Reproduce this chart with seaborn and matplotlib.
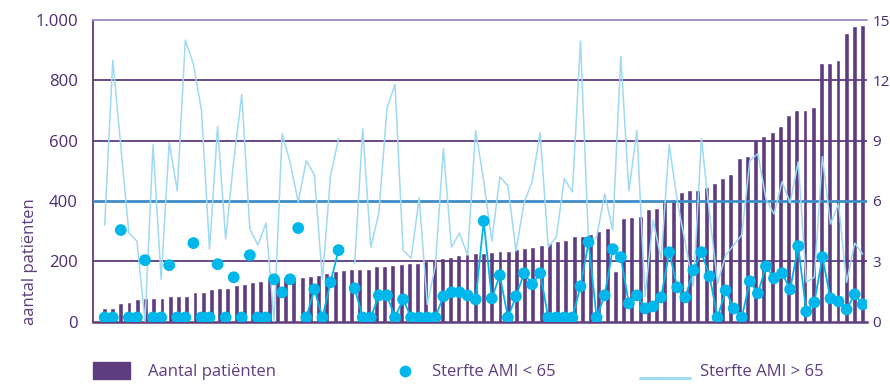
import numpy as np
import pandas as pd
import matplotlib
matplotlib.use("Agg")
import matplotlib.pyplot as plt
import seaborn as sns
from matplotlib.patches import Rectangle
from matplotlib.lines import Line2D

# ---------------- data ----------------
patients = [44, 44, 61, 64, 75, 79, 79, 79, 86, 86, 86, 98, 98, 108, 111, 111,
            121, 125, 131, 134, 140, 144, 146, 148, 148, 151, 154, 160, 168, 171,
            174, 174, 174, 184, 184, 187, 191, 193, 195, 201, 204, 212, 214, 220,
            223, 226, 227, 230, 234, 234, 239, 243, 247, 254, 260, 268, 270, 282,
            283, 289, 300, 310, 168, 343, 346, 350, 373, 376, 399, 406, 429, 436,
            436, 445, 459, 475, 488, 541, 548, 601, 614, 627, 647, 684, 700, 703,
            713, 859, 859, 866, 958, 981, 985]

nan = np.nan
ami_lt65 = [0.2, 0.2, 4.55, 0.2, 0.2, 3.05, 0.2, 0.2, 2.8, 0.2, 0.2, 3.9, 0.2, 0.2,
            2.85, 0.2, 2.2, 0.2, 3.3, 0.2, 0.2, 2.1, 1.45, 2.1, 4.65, 0.2, 1.6, 0.2,
            1.95, 3.55, nan, 1.65, 0.2, 0.2, 1.3, 1.3, 0.2, 1.1, 0.2, 0.2, 0.2, 0.2,
            1.25, 1.45, 1.45, 1.3, 1.1, 5.0, 1.15, 2.3, 0.2, 1.25, 2.4, 1.85, 2.4,
            0.2, 0.2, 0.2, 0.2, 1.75, 3.95, 0.2, 1.3, 3.6, 3.2, 0.9, 1.3, 0.65, 0.75,
            1.2, 3.45, 1.7, 1.2, 2.55, 3.45, 2.25, 0.2, 1.55, 0.65, 0.2, 2.0, 1.4,
            2.75, 2.15, 2.4, 1.6, 3.75, 0.5, 0.95, 3.2, 1.15, 1.0, 0.6, 1.35, 0.85]

ami_gt65 = [4.8, 13.0, 8.7, 4.4, 4.0, 0.0, 8.8, 2.1, 8.9, 6.5, 14.0, 12.8, 10.5, 3.6,
            9.7, 4.1, 8.0, 11.3, 4.6, 3.8, 4.9, 0.0, 9.35, 7.9, 5.95, 8.0, 7.3, 2.1,
            7.25, 9.1, nan, 2.9, 9.6, 3.7, 5.4, 10.6, 11.8, 3.55, 3.15, 6.15, 0.85,
            2.75, 8.6, 3.7, 4.4, 3.3, 9.5, 7.0, 4.0, 7.2, 6.75, 3.5, 5.9, 6.95, 9.4,
            3.7, 4.2, 7.1, 6.45, 13.95, 3.95, 4.2, 6.35, 4.55, 13.2, 6.5, 9.5, 1.25,
            5.05, 3.1, 8.8, 6.0, 3.9, 1.75, 9.1, 5.35, 1.9, 3.3, 3.8, 4.3, 8.0, 8.35,
            6.1, 5.35, 6.95, 5.9, 7.95, 1.95, 2.2, 8.2, 4.85, 5.85, 1.95, 3.9, 3.35]

left_ticks = [0, 200, 400, 600, 800, 1000]
right_ticks = [0, 3, 6, 9, 12, 15]
legend_labels = ["Aantal patiënten", "Sterfte AMI < 65", "Sterfte AMI > 65"]
y_label = "aantal patiënten"
linked_from = 25   # from this point on the "< 65" markers are joined by a line

# ---------------- style ----------------
sns.set_theme(style="white")
plt.rcParams['font.family'] = ['Open Sans', 'DejaVu Sans']

PURPLE = "#5e3c80"
TEXT = "#4a2c72"
CYAN = "#00b7ec"
LIGHT = "#9fd9f3"
GRIDBLUE = "#3f8dc8"
TOPLINE = "#a992c4"

W, H = 890, 384
fig = plt.figure(figsize=(W / 100, H / 100), dpi=100)
rect = [93 / W, 1 - 321.5 / H, (867 - 93) / W, (321.5 - 20) / H]

# ---------------- bars (primary axis) ----------------
ax = fig.add_axes(rect)
bars_df = pd.DataFrame({"nr": np.arange(len(patients)), "n": patients})
sns.barplot(data=bars_df, x="nr", y="n", ax=ax, color=PURPLE, width=0.6,
            saturation=1, native_scale=True, zorder=2)
ax.set_xlim(-1.37, len(patients) - 1 + 0.52)
ax.set_ylim(0, 1000)
ax.set_xlabel("")
ax.set_ylabel("")
ax.set_xticks([])
ax.set_yticks(left_ticks)
ax.set_yticklabels([f"{v:,}".replace(",", ".") for v in left_ticks],
                   color=TEXT, fontsize=12)
ax.tick_params(axis="y", length=0, pad=11)
for v in left_ticks[1:]:
    if v == 400:
        ax.axhline(v, color=GRIDBLUE, lw=2.0, zorder=3)
    elif v == 1000:
        ax.axhline(v, color=TOPLINE, lw=1.4, zorder=3, clip_on=False)
    else:
        ax.axhline(v, color=PURPLE, lw=1.3, zorder=3)
for s in ["top", "right"]:
    ax.spines[s].set_visible(False)
ax.spines["left"].set_color(PURPLE)
ax.spines["left"].set_linewidth(1.3)
ax.spines["bottom"].set_color(PURPLE)
ax.spines["bottom"].set_linewidth(1.8)
ax.spines["bottom"].set_zorder(4)

# ---------------- mortality series (secondary axis) ----------------
ax2 = fig.add_axes(rect, facecolor="none")
n = len(ami_gt65)
pts = pd.DataFrame({"nr": np.arange(n), "gt65": ami_gt65, "lt65": ami_lt65})


def segments(frame, col):
    ok = frame[col].notna().to_numpy()
    segs, cur = [], []
    for i, flag in enumerate(ok):
        if flag:
            cur.append(i)
        elif cur:
            segs.append(cur)
            cur = []
    if cur:
        segs.append(cur)
    return [frame.iloc[s] for s in segs]


for seg in segments(pts, "gt65"):
    sns.lineplot(data=seg, x="nr", y="gt65", ax=ax2, color=LIGHT, lw=1.1,
                 estimator=None, sort=False, zorder=4)

for seg in segments(pts[pts["nr"] >= linked_from].reset_index(drop=True), "lt65"):
    sns.lineplot(data=seg, x="nr", y="lt65", ax=ax2, color=CYAN, lw=1.3,
                 estimator=None, sort=False, zorder=5)

sns.scatterplot(data=pts, x="nr", y="lt65", ax=ax2, color=CYAN, s=72,
                edgecolor="none", linewidth=0, zorder=6)

ax2.set_xlim(-1.45, n - 1 + 0.53)
ax2.set_ylim(0, 15)
ax2.set_xlabel("")
ax2.set_ylabel("")
ax2.set_xticks([])
ax2.yaxis.tick_right()
ax2.set_yticks(right_ticks)
ax2.set_yticklabels([str(v) for v in right_ticks], color=TEXT, fontsize=11)
ax2.tick_params(axis="y", length=0, pad=4)
for s in ax2.spines.values():
    s.set_visible(False)

# ---------------- y label ----------------
fig.text(30 / W, 1 - 262 / H, y_label, rotation=90, ha="center", va="center",
         color=PURPLE, fontsize=12)

# ---------------- legend ----------------
fig.patches.append(Rectangle((93 / W, 1 - 379 / H), 37 / W, 17 / H,
                             transform=fig.transFigure, color=PURPLE))
fig.text(148 / W, 1 - 372 / H, legend_labels[0], ha="left", va="center",
         color=PURPLE, fontsize=12)
fig.lines.append(Line2D([405 / W], [1 - 371 / H], marker="o", ms=8.5,
                        color=CYAN, mec="none", transform=fig.transFigure))
fig.text(432 / W, 1 - 372 / H, legend_labels[1], ha="left", va="center",
         color=PURPLE, fontsize=12)
fig.lines.append(Line2D([640 / W, 690 / W], [1 - 378 / H, 1 - 378 / H], lw=2.2,
                        color=LIGHT, transform=fig.transFigure))
fig.text(700 / W, 1 - 372 / H, legend_labels[2], ha="left", va="center",
         color=PURPLE, fontsize=12)

fig.savefig("out.png", dpi=100)
